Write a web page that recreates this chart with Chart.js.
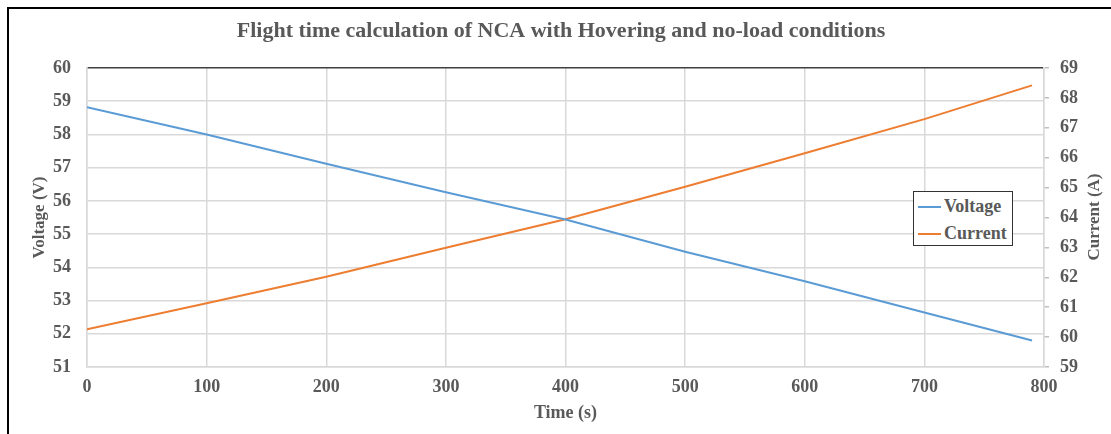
<!DOCTYPE html>
<html>
<head>
<meta charset="utf-8">
<script src="https://cdn.jsdelivr.net/npm/chart.js@4/dist/chart.umd.min.js"></script>
<style>
  html, body { margin: 0; padding: 0; background: #fff; overflow: hidden; }
  #wrap { position: relative; width: 1111px; height: 434px; }
  #frame { position: absolute; left: 7px; top: 7px; width: 1200px; height: 500px; border: 2px solid #000; box-sizing: border-box; pointer-events: none; }
  #legend { position: absolute; left: 913px; top: 191px; width: 100px; height: 55px; border: 1px solid #333; box-sizing: border-box; background: #fff;
            font: bold 18px "Liberation Serif", "Times New Roman", serif; color: #595959; }
  .item { position: absolute; left: 4px; height: 20px; line-height: 20px; white-space: nowrap; }
  .swatch { display: inline-block; width: 23px; height: 2px; vertical-align: middle; margin-right: 3px; position: relative; top: -1px; }
</style>
</head>
<body>
<div id="wrap">
  <canvas id="c" width="1111" height="434"></canvas>
  <div id="frame"></div>
  <div id="legend">
    <div class="item" style="top:4px"><span class="swatch" style="background:#5b9bd5"></span>Voltage</div>
    <div class="item" style="top:31px"><span class="swatch" style="background:#ed7d31"></span>Current</div>
  </div>
</div>
<script>
// Measured flight log: time (s), pack voltage (V), motor current (A)
const timeS   = [0, 100, 200, 300, 400, 500, 600, 700, 790];
const voltage = [58.82, 58.0, 57.12, 56.26, 55.44, 54.47, 53.58, 52.64, 51.8];
const current = [60.26, 61.13, 62.02, 62.99, 63.94, 65.03, 66.15, 67.29, 68.42];

const chartTitle = 'Flight time calculation of NCA with Hovering and no-load conditions';
const xTitle = 'Time (s)';
const yLeftTitle = 'Voltage (V)';
const yRightTitle = 'Current (A)';

const TEXT = '#595959';
const GRID = '#d9d9d9';
const SERIF = '"Liberation Serif", "Times New Roman", serif';

const toPoints = (ys) => timeS.map((t, i) => ({ x: t, y: ys[i] }));

// Chart heading and the right-hand axis caption (reads bottom-to-top)
const captions = {
  id: 'captions',
  afterDraw(chart) {
    const ctx = chart.ctx;
    ctx.save();
    ctx.fillStyle = TEXT;
    ctx.textAlign = 'center';
    ctx.textBaseline = 'middle';
    ctx.font = 'bold 22px ' + SERIF;
    ctx.fillText(chartTitle, 561, 31);
    ctx.font = 'bold 17px ' + SERIF;
    ctx.translate(1095, 217);
    ctx.rotate(-Math.PI / 2);
    ctx.fillText(yRightTitle, 0, 0);
    ctx.restore();
  }
};

new Chart(document.getElementById('c'), {
  type: 'line',
  data: {
    datasets: [
      { label: 'Voltage', data: toPoints(voltage), yAxisID: 'yV',
        borderColor: '#5b9bd5', borderWidth: 2, pointRadius: 0, tension: 0 },
      { label: 'Current', data: toPoints(current), yAxisID: 'yI',
        borderColor: '#ed7d31', borderWidth: 2, pointRadius: 0, tension: 0 }
    ]
  },
  options: {
    responsive: false,
    animation: false,
    layout: { padding: { top: 68, left: 0, right: 0, bottom: 0 } },
    plugins: { legend: { display: false }, title: { display: false }, tooltip: { enabled: false } },
    scales: {
      x: {
        type: 'linear', min: 0, max: 800,
        afterFit(s) { s.height = 67; },
        ticks: { stepSize: 100, padding: 10, color: TEXT, font: { family: SERIF, size: 18, weight: 'bold' } },
        grid: { color: GRID, lineWidth: 1.5, drawTicks: false },
        border: { color: GRID, width: 1.5 },
        title: { display: true, text: xTitle, color: TEXT, padding: { top: 0, bottom: 10 },
                 font: { family: SERIF, size: 18, weight: 'bold' } }
      },
      yV: {
        type: 'linear', position: 'left', min: 51, max: 60,
        afterFit(s) { s.width = 87; },
        ticks: { stepSize: 1, padding: 16, color: TEXT, font: { family: SERIF, size: 18, weight: 'bold' } },
        grid: { lineWidth: 1.5, drawTicks: false,
                color: (c) => (c.tick && c.tick.value === 60 ? '#404040' : GRID) },
        border: { color: GRID, width: 1.5 },
        title: { display: true, text: yLeftTitle, color: TEXT, padding: { top: 29, bottom: 0 },
                 font: { family: SERIF, size: 17, weight: 'bold' } }
      },
      yI: {
        type: 'linear', position: 'right', min: 59, max: 69,
        afterFit(s) { s.width = 67; },
        ticks: { stepSize: 1, padding: 11, color: TEXT, font: { family: SERIF, size: 18, weight: 'bold' } },
        grid: { drawOnChartArea: false, drawTicks: true, tickLength: 5, color: '#bfbfbf', lineWidth: 1.5 },
        border: { color: GRID, width: 1.5 }
      }
    }
  },
  plugins: [captions]
});
</script>
</body>
</html>
